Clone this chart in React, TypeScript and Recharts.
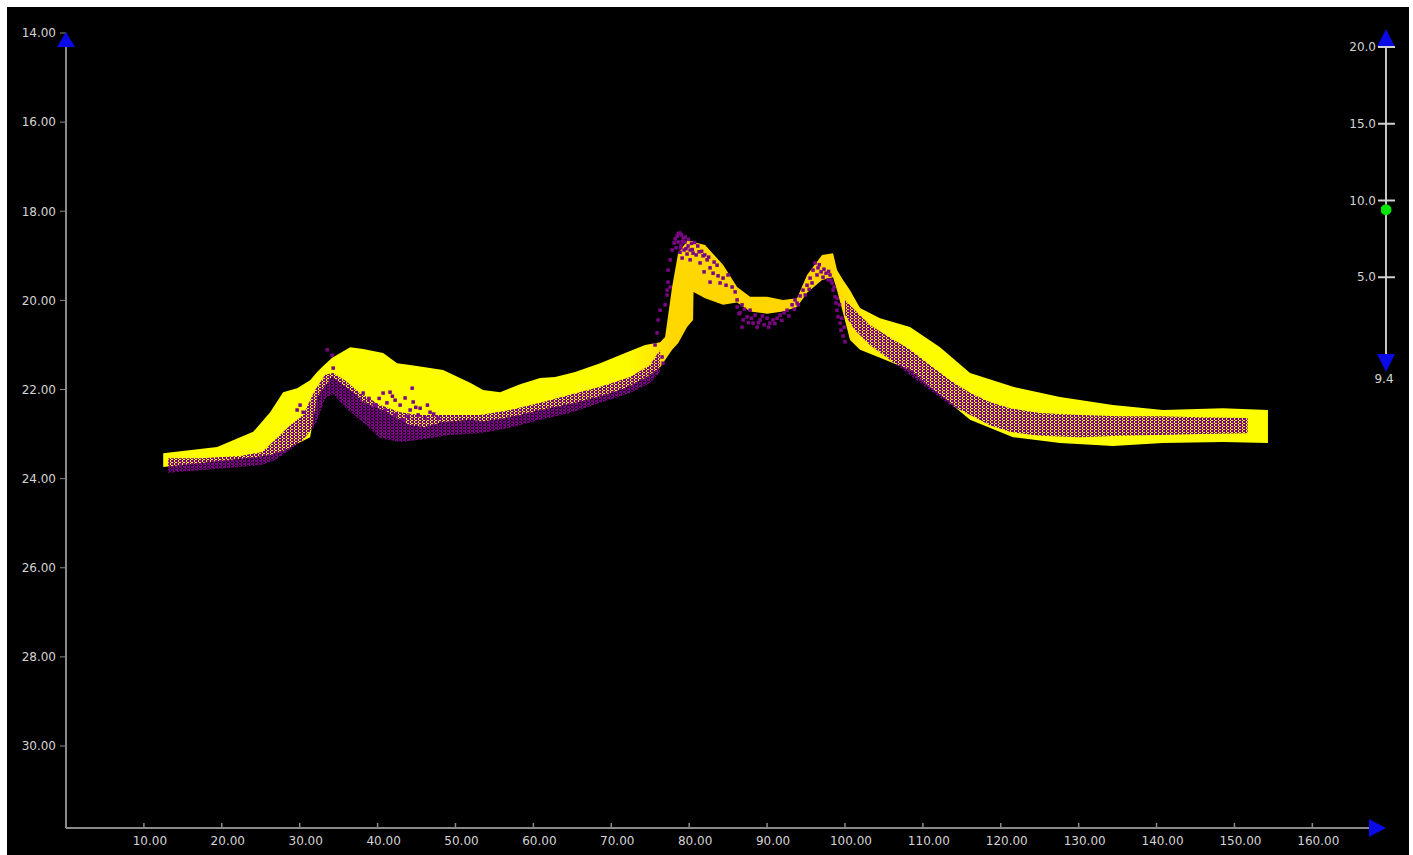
import React from 'react';
import { ComposedChart, Area, Scatter, XAxis, YAxis, ReferenceDot } from 'recharts';

const xTicks = [10, 20, 30, 40, 50, 60, 70, 80, 90, 100, 110, 120, 130, 140, 150, 160];
const depthTicks = [14, 16, 18, 20, 22, 24, 26, 28, 30];
const sliderTicks = [5, 10, 15, 20];
const sliderValue = 9.4;

// yellow band (upper / lower depth)
const bandX = [12.48, 19.4, 24.03, 26.21, 27.87, 29.67, 31.34, 32.24, 33.01, 34.17, 36.48, 38.15, 40.71, 42.51, 44.18, 46.1, 48.41, 51.88, 53.55, 55.73, 58.3, 60.86, 62.79, 65.36, 68.57, 71.78, 74.34, 76.27, 76.91, 77.81, 78.58, 79.73, 80.5, 80.56, 82.04, 84.35, 86.15, 87.82, 90.0, 92.05, 93.85, 95.13, 97.06, 98.47, 98.98, 99.75, 100.65, 101.93, 104.5, 108.35, 112.2, 116.06, 121.58, 127.6, 134.4, 140.82, 148.52, 154.3];
const bandTop = [23.43, 23.29, 22.95, 22.51, 22.06, 21.97, 21.79, 21.61, 21.47, 21.29, 21.05, 21.09, 21.18, 21.41, 21.45, 21.5, 21.56, 21.85, 22.01, 22.06, 21.88, 21.74, 21.72, 21.61, 21.41, 21.18, 21.0, 20.94, 20.82, 19.7, 18.94, 18.67, 18.67, 18.69, 18.76, 19.2, 19.7, 19.92, 19.92, 19.99, 19.95, 19.43, 18.98, 18.94, 19.32, 19.54, 19.77, 20.17, 20.4, 20.6, 21.05, 21.63, 21.94, 22.17, 22.35, 22.46, 22.42, 22.46];
const bandBottom = [23.74, 23.61, 23.52, 23.47, 23.38, 23.22, 23.07, 22.17, 21.97, 21.72, 22.01, 22.28, 22.46, 22.64, 22.8, 22.84, 22.73, 22.68, 22.71, 22.66, 22.57, 22.46, 22.39, 22.3, 22.15, 21.97, 21.74, 21.5, 21.34, 21.11, 20.96, 20.6, 20.44, 19.81, 19.95, 20.1, 20.05, 20.25, 20.3, 20.25, 20.15, 19.83, 19.54, 19.48, 19.77, 20.28, 20.89, 21.11, 21.29, 21.56, 22.12, 22.68, 23.07, 23.2, 23.27, 23.2, 23.18, 23.2];

// dense purple soundings, left and right of the peaks
const cloudAX = [13.12, 17.22, 22.36, 25.18, 26.85, 28.77, 30.44, 31.98, 33.27, 34.3, 35.84, 37.76, 40.33, 42.89, 45.46, 49.31, 53.16, 57.0, 60.86, 64.7, 68.57, 72.42, 74.99, 76.27];
const cloudATop = [23.54, 23.54, 23.49, 23.4, 23.13, 22.8, 22.57, 22.01, 21.67, 21.63, 21.8, 22.08, 22.35, 22.51, 22.57, 22.57, 22.57, 22.46, 22.3, 22.12, 21.94, 21.72, 21.45, 21.11];
const cloudABottom = [23.87, 23.81, 23.74, 23.69, 23.58, 23.36, 23.13, 22.8, 22.2, 22.1, 22.4, 22.68, 23.09, 23.18, 23.13, 23.02, 22.98, 22.86, 22.68, 22.53, 22.3, 22.08, 21.85, 21.61];

const cloudBX = [100.0, 101.3, 103.2, 105.8, 108.4, 110.9, 113.5, 116.1, 118.6, 121.2, 125.0, 130.2, 135.3, 140.4, 145.6, 151.7];
const cloudBTop = [19.99, 20.22, 20.55, 20.84, 21.11, 21.45, 21.79, 22.08, 22.28, 22.42, 22.53, 22.57, 22.6, 22.6, 22.62, 22.64];
const cloudBBottom = [20.33, 20.67, 21.0, 21.34, 21.68, 22.01, 22.35, 22.57, 22.8, 22.95, 23.04, 23.07, 23.04, 23.02, 23.0, 22.98];

// scattered single soundings
const dotX = [
  29.67, 30.05, 30.44, 33.53, 34.17, 34.3, 38.15, 40.71, 41.6, 40.97, 39.69, 42.25, 42.89, 43.53, 44.18, 44.57, 44.44, 45.21, 45.46, 46.1, 46.74, 47.77, 42.25, 43.27,
  38.9, 41.2, 43.9, 44.9, 46.4, 47.2, 41.9, 40.2,
  75.62, 75.88, 76.01, 76.27, 76.52, 76.65, 76.91, 77.16, 77.16, 77.29, 77.29, 77.55, 77.55, 77.81, 78.07,
  78.45, 78.83, 79.22, 78.58, 78.96, 79.47, 79.86, 79.35, 80.12, 80.5, 79.73, 80.89, 81.27, 81.78, 78.83, 78.32, 79.09, 80.12,
  78.6, 79.0, 79.5, 79.9, 80.3, 80.7, 81.1, 79.1, 78.2, 78.9, 79.6, 80.4, 81.6, 82.0, 82.5, 83.2,
  81.4, 82.3, 82.68, 83.07, 83.58, 83.71, 83.97, 84.35, 84.99, 84.73, 85.51, 82.68, 81.91, 85.9,
  86.15, 86.15, 86.53, 86.79, 86.92, 86.79, 87.43, 87.82, 88.2, 88.46, 88.72, 89.1, 89.62, 90.0, 90.36, 90.77, 91.28, 91.67, 92.18, 92.57, 93.21, 93.59, 93.85, 94.24, 94.62,
  86.4, 87.1, 87.6, 88.0, 88.9, 89.4, 90.2, 91.0, 91.9, 92.8, 93.5, 94.0, 94.9, 95.4,
  95.13, 95.52, 95.77, 95.9, 96.16, 96.41, 96.54, 96.93, 97.18, 97.57, 97.83, 98.08,
  96.7, 97.3, 97.9, 98.2, 98.6, 99.0, 99.3, 99.6, 99.9,
  98.34, 98.47, 98.72, 98.85, 98.98, 99.11, 99.37, 99.49, 99.75, 100.0,
];
const dotDepth = [
  22.46, 22.35, 22.51, 21.11, 21.23, 21.52, 22.08, 22.08, 22.06, 22.46, 22.35, 22.24, 22.35, 22.19, 22.46, 22.28, 21.97, 22.57, 22.42, 22.64, 22.51, 22.64, 22.57, 22.68,
  22.2, 22.3, 22.6, 22.4, 22.35, 22.55, 22.15, 22.2,
  21.0, 20.73, 20.44, 20.22, 21.27, 21.41, 20.1, 19.88, 19.77, 19.59, 19.32, 19.7, 19.09, 18.87, 18.71,
  18.56, 18.49, 18.6, 18.69, 18.76, 18.69, 18.78, 18.87, 18.87, 18.94, 18.96, 18.98, 18.91, 19.0, 18.92, 18.82, 19.05, 19.09,
  18.5, 18.53, 18.58, 18.63, 18.72, 18.7, 18.78, 18.68, 18.62, 18.82, 18.84, 18.86, 18.9, 18.98, 19.03, 19.14,
  19.16, 19.09, 19.27, 19.39, 19.21, 19.45, 19.61, 19.5, 19.43, 19.66, 19.7, 19.59, 19.36, 19.81,
  19.99, 20.15, 20.28, 20.1, 20.44, 20.6, 20.37, 20.22, 20.51, 20.33, 20.6, 20.44, 20.55, 20.4, 20.51, 20.44, 20.4, 20.33, 20.28, 20.22, 20.1, 19.99, 20.06, 19.9, 19.77,
  20.3, 20.2, 20.5, 20.4, 20.5, 20.35, 20.6, 20.52, 20.45, 20.35, 20.2, 20.1, 19.88, 19.75,
  19.66, 19.5, 19.61, 19.32, 19.16, 19.43, 19.27, 19.36, 19.48, 19.39, 19.54, 19.43,
  19.2, 19.3, 19.35, 19.55, 19.7, 19.95, 20.1, 20.4, 20.6,
  19.61, 19.77, 19.92, 20.06, 20.22, 20.37, 20.51, 20.67, 20.8, 20.93,
];

const font = '"DejaVu Sans", Verdana, sans-serif';
const blue = '#0a0ae6';
const purple = '#7c0586';

type Row = { x: number; [key: string]: any };

const buildRows = () => {
  const map = new Map<number, Row>();
  const put = (xs: number[], tops: number[], bottoms: number[], key: string) => {
    xs.forEach((x, i) => {
      const row = map.get(x) ?? { x };
      row[key] = [bottoms[i], tops[i]];
      map.set(x, row);
    });
  };
  put(bandX, bandTop, bandBottom, 'band');
  put(cloudAX, cloudATop, cloudABottom, 'cloudA');
  put(cloudBX, cloudBTop, cloudBBottom, 'cloudB');
  return [...map.values()].sort((a, b) => a.x - b.x);
};

const rows = buildRows();
const dots = dotX.map((x, i) => ({ x, d: dotDepth[i] }));
const sliderDot = [{ x: 0, v: sliderValue }];

const XTick = (props: any) => {
  const { x, y, payload } = props;
  return (
    <g>
      <line x1={x} x2={x} y1={y - 5} y2={y} stroke="#8a8a8a" strokeWidth={1.5} />
      <text x={x + 6} y={y + 17} textAnchor="middle" fill="#d4d4d4" fontSize={12} fontFamily={font}>
        {Number(payload.value).toFixed(2)}
      </text>
    </g>
  );
};

const SliderTick = (props: any) => {
  const { x, y, payload } = props;
  return (
    <g>
      <line x1={x - 8} x2={x + 9} y1={y} y2={y} stroke="#d0d0d0" strokeWidth={2} />
      <text x={x - 10} y={y} dy={4} textAnchor="end" fill="#d4d4d4" fontSize={12} fontFamily={font}>
        {Number(payload.value).toFixed(1)}
      </text>
    </g>
  );
};

const UpArrow = (p: any) => (
  <polygon points={`${p.cx - 9},${p.cy + 14} ${p.cx + 9},${p.cy + 14} ${p.cx},${p.cy - 1}`} fill={blue} />
);

const RightArrow = (p: any) => (
  <polygon points={`${p.cx - 1},${p.cy - 9} ${p.cx - 1},${p.cy + 9} ${p.cx + 16},${p.cy}`} fill={blue} />
);

const SliderUp = (p: any) => (
  <polygon points={`${p.cx - 9},${p.cy} ${p.cx + 9},${p.cy} ${p.cx},${p.cy - 18}`} fill={blue} />
);

const SliderDown = (p: any) => (
  <g>
    <polygon points={`${p.cx - 9},${p.cy} ${p.cx + 9},${p.cy} ${p.cx},${p.cy + 18}`} fill={blue} />
    <text x={p.cx - 2} y={p.cy + 29} textAnchor="middle" fill="#d4d4d4" fontSize={12} fontFamily={font}>
      {sliderValue.toFixed(1)}
    </text>
  </g>
);

const Sounding = (p: any) => <rect x={p.cx - 1.75} y={p.cy - 1.75} width={3.5} height={3.5} fill={purple} />;

const GreenDot = (p: any) => <circle cx={p.cx} cy={p.cy} r={5.5} fill="#00e600" />;

const App = () => {
  return (
    <div style={{ position: 'absolute', left: 7, top: 7, width: 1402, height: 848, background: '#000' }}>
      <ComposedChart width={1402} height={848} data={rows} margin={{ top: 26, right: 39, bottom: 0, left: 0 }}>
        <defs>
          <linearGradient id="bandFill" x1="0" y1="0" x2="1" y2="0">
            <stop offset="0" stopColor="#fdfd00" />
            <stop offset="0.42" stopColor="#fdfd00" />
            <stop offset="0.46" stopColor="#ffd800" />
            <stop offset="0.6" stopColor="#ffd400" />
            <stop offset="0.64" stopColor="#fff200" />
            <stop offset="0.68" stopColor="#fdfd00" />
            <stop offset="1" stopColor="#fdfd00" />
          </linearGradient>
          <pattern id="cloudDots" patternUnits="userSpaceOnUse" width="4" height="3">
            <rect x="0" y="0" width="3" height="2" fill={purple} />
            <rect x="2" y="2" width="2" height="1" fill={purple} />
          </pattern>
        </defs>
        <XAxis
          dataKey="x"
          type="number"
          domain={[0, 167.4]}
          allowDataOverflow
          ticks={xTicks}
          interval={0}
          height={27}
          tickSize={0}
          tickMargin={0}
          tickLine={false}
          axisLine={{ stroke: '#8a8a8a', strokeWidth: 2 }}
          tick={<XTick />}
        />
        <YAxis
          dataKey="d"
          type="number"
          reversed
          domain={[14, 31.84]}
          allowDataOverflow
          ticks={depthTicks}
          interval={0}
          width={59}
          tickSize={6}
          tickMargin={4}
          tickFormatter={(v: number) => v.toFixed(2)}
          tick={{ fill: '#d4d4d4', fontSize: 12, fontFamily: font }}
          tickLine={{ stroke: '#8a8a8a' }}
          axisLine={{ stroke: '#8a8a8a', strokeWidth: 2 }}
        />
        <Area dataKey="band" type="linear" fill="url(#bandFill)" fillOpacity={1} stroke="none" connectNulls isAnimationActive={false} />
        <Area dataKey="cloudA" type="linear" fill="url(#cloudDots)" fillOpacity={1} stroke="none" connectNulls isAnimationActive={false} />
        <Area dataKey="cloudB" type="linear" fill="url(#cloudDots)" fillOpacity={1} stroke="none" connectNulls isAnimationActive={false} />
        <Scatter data={dots} dataKey="d" shape={Sounding} isAnimationActive={false} />
        <ReferenceDot x={0} y={14} ifOverflow="visible" shape={UpArrow} />
        <ReferenceDot x={167.4} y={31.84} ifOverflow="visible" shape={RightArrow} />
      </ComposedChart>

      <div style={{ position: 'absolute', left: 1293, top: 0, width: 102, height: 400 }}>
        <ComposedChart width={102} height={400} margin={{ top: 40, right: 6, bottom: 53, left: 0 }}>
          <XAxis dataKey="x" type="number" domain={[0, 1]} hide />
          <YAxis
            dataKey="v"
            type="number"
            domain={[0, 20]}
            allowDataOverflow
            ticks={sliderTicks}
            interval={0}
            width={86}
            tickSize={0}
            tickMargin={0}
            tickLine={false}
            axisLine={{ stroke: '#c4c4c4', strokeWidth: 2 }}
            tick={<SliderTick />}
          />
          <ReferenceDot x={0} y={20} ifOverflow="visible" shape={SliderUp} />
          <ReferenceDot x={0} y={0} ifOverflow="visible" shape={SliderDown} />
          <Scatter data={sliderDot} dataKey="v" shape={GreenDot} isAnimationActive={false} />
        </ComposedChart>
      </div>
    </div>
  );
};

export default App;
